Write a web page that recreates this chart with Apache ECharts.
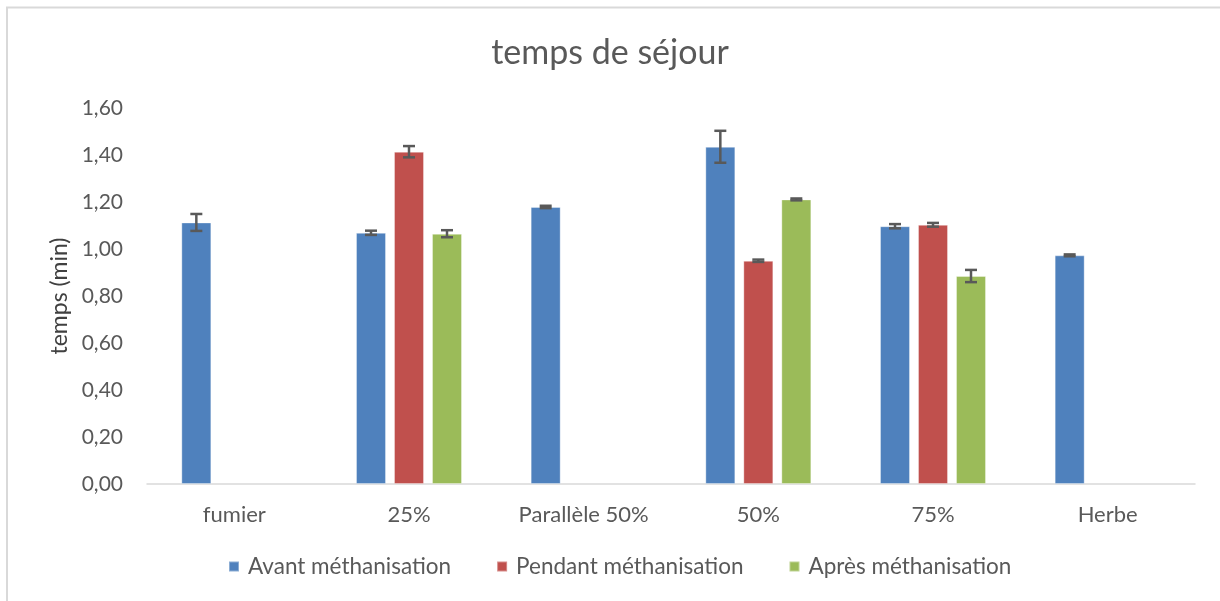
<!DOCTYPE html>
<html>
<head>
<meta charset="utf-8">
<script src="https://cdn.jsdelivr.net/npm/echarts@6/dist/echarts.min.js"></script>
<style>
  html, body { margin: 0; padding: 0; background: #fff; }
  #chart { width: 1220px; height: 601px; }
</style>
</head>
<body>
<div id="chart"></div>
<script>
// Categories and measured residence times (minutes), with their error margins
const categories = ['fumier', '25%', 'Parallèle 50%', '50%', '75%', 'Herbe'];
const seriesNames = ['Avant méthanisation', 'Pendant méthanisation', 'Après méthanisation'];

const avant   = [1.113, 1.069, 1.179, 1.435, 1.097, 0.973];
const pendant = [null, 1.414, null, 0.950, 1.103, null];
const apres   = [null, 1.065, null, 1.211, 0.885, null];

const avantErr   = [0.036, 0.009, 0.005, 0.068, 0.009, 0.004];
const pendantErr = [null, 0.024, null, 0.005, 0.008, null];
const apresErr   = [null, 0.015, null, 0.004, 0.026, null];

const yTicks = ['0,00', '0,20', '0,40', '0,60', '0,80', '1,00', '1,20', '1,40', '1,60'];

const colors = ['#4f81bd', '#c0504d', '#9bbb59'];
const values = [avant, pendant, apres];
const errors = [avantErr, pendantErr, apresErr];

const BAR_W = 30;
const BAR_GAP = 8;

const font = 'Lato';

const chart = echarts.init(document.getElementById('chart'));

// Error bar drawn as a vertical whisker with two caps, shifted to sit over its bar
function errorSeries(idx) {
  const data = values[idx].map((v, i) =>
    v == null ? [i, null, null] : [i, v - errors[idx][i], v + errors[idx][i]]);
  const shift = (idx - 1) * (BAR_W + BAR_GAP);
  return {
    type: 'custom',
    name: seriesNames[idx] + ' err',
    silent: true,
    z: 10,
    data: data,
    encode: { x: 0, y: [1, 2] },
    renderItem: function (params, api) {
      const lo = api.value(1), hi = api.value(2);
      if (lo == null || hi == null || isNaN(lo)) return null;
      const pLo = api.coord([api.value(0), lo]);
      const pHi = api.coord([api.value(0), hi]);
      const x = pLo[0] + shift;
      const cap = 6;
      const style = { stroke: '#595959', lineWidth: 2.5 };
      return {
        type: 'group',
        children: [
          { type: 'line', shape: { x1: x, y1: pHi[1], x2: x, y2: pLo[1] }, style },
          { type: 'line', shape: { x1: x - cap, y1: pHi[1], x2: x + cap, y2: pHi[1] }, style },
          { type: 'line', shape: { x1: x - cap, y1: pLo[1], x2: x + cap, y2: pLo[1] }, style }
        ]
      };
    }
  };
}

const barSeries = values.map((vals, idx) => ({
  type: 'bar',
  name: seriesNames[idx],
  data: vals,
  barWidth: BAR_W,
  barGap: (BAR_GAP / BAR_W * 100) + '%',
  itemStyle: { color: colors[idx], borderColor: 'rgba(255,255,255,0.35)', borderWidth: 1 }
}));

chart.setOption({
  animation: false,
  backgroundColor: '#fff',
  title: {
    text: 'temps de séjour',
    left: 'center',
    top: 31,
    textStyle: { fontFamily: font, fontSize: 34, fontWeight: 'normal', color: '#595959' }
  },
  legend: {
    data: seriesNames,
    bottom: 18,
    left: 223,
    itemWidth: 10,
    itemHeight: 10,
    itemGap: 45,
    icon: 'rect',
    textStyle: { fontFamily: font, fontSize: 22.5, color: '#595959', padding: [0, 0, 0, 4] }
  },
  grid: { left: 147, right: 25, top: 108, bottom: 117, containLabel: false },
  xAxis: {
    type: 'category',
    data: categories,
    axisLine: { lineStyle: { color: '#d9d9d9', width: 1.5 } },
    axisTick: { show: false },
    axisLabel: { fontFamily: font, fontSize: 22, color: '#595959', margin: 20 }
  },
  yAxis: {
    type: 'value',
    min: 0,
    max: 1.6,
    interval: 0.2,
    name: 'temps (min)',
    nameLocation: 'middle',
    nameGap: 70,
    nameRotate: 90,
    nameTextStyle: { fontFamily: font, fontSize: 23, color: '#404040' },
    axisLine: { show: false },
    axisTick: { show: false },
    splitLine: { show: false },
    axisLabel: {
      fontFamily: font, fontSize: 21, color: '#595959', margin: 24,
      formatter: function (v) { return yTicks[Math.round(v / 0.2)]; }
    }
  },
  graphic: [
    { type: 'line', shape: { x1: 6, y1: 7.5, x2: 1220, y2: 7.5 }, style: { stroke: '#d9d9d9', lineWidth: 2 } },
    { type: 'line', shape: { x1: 7, y1: 7, x2: 7, y2: 601 }, style: { stroke: '#d9d9d9', lineWidth: 2 } }
  ],
  series: barSeries.concat([errorSeries(0), errorSeries(1), errorSeries(2)])
});
</script>
</body>
</html>
